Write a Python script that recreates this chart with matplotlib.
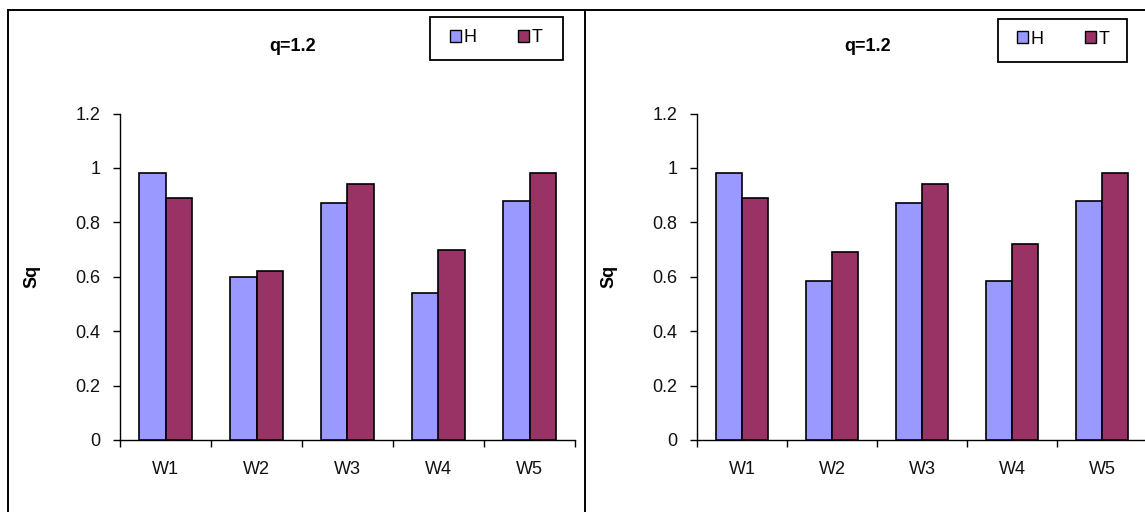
import numpy as np
import matplotlib
matplotlib.use("Agg")
import matplotlib.pyplot as plt
from matplotlib.patches import Patch, Rectangle
from matplotlib.lines import Line2D

plt.rcParams['font.family'] = ['Liberation Sans', 'DejaVu Sans']

# ---- data ----
categories = ["W1", "W2", "W3", "W4", "W5"]
series_names = ["H", "T"]
left_H = [0.98, 0.60, 0.87, 0.54, 0.88]
left_T = [0.89, 0.62, 0.94, 0.70, 0.98]
right_H = [0.98, 0.585, 0.87, 0.585, 0.88]
right_T = [0.89, 0.69, 0.94, 0.72, 0.98]
titles = ["q=1.2", "q=1.2"]
y_ticks = [0, 0.2, 0.4, 0.6, 0.8, 1.0, 1.2]
y_tick_labels = ["0", "0.2", "0.4", "0.6", "0.8", "1", "1.2"]
ylabel = "Sq"

colors = ["#9999FF", "#993366"]

W, H = 1145, 512
fig = plt.figure(figsize=(W / 100, H / 100), dpi=100)
fig.patch.set_facecolor("white")

FS = 13


def fx(x):
    return x / W


def fy(y):
    return 1 - y / H


def draw_panel(ax_left_px, ax_width_px, hvals, tvals, title, title_x, leg_x, leg_y, box):
    ax = fig.add_axes([fx(ax_left_px), fy(440), ax_width_px / W, (440 - 113.6) / H])
    x = np.arange(len(categories))
    bw = 0.286
    ax.bar(x - bw / 2, hvals, bw, color=colors[0], edgecolor="black", linewidth=1.2, zorder=3)
    ax.bar(x + bw / 2, tvals, bw, color=colors[1], edgecolor="black", linewidth=1.2, zorder=3)
    ax.set_xlim(-0.5, len(categories) - 0.5)
    ax.set_ylim(0, 1.2)
    ax.set_yticks(y_ticks)
    ax.set_yticklabels(y_tick_labels, fontsize=FS, color="#111111")
    ax.set_xticks(x)
    ax.set_xticklabels(categories, fontsize=FS, color="#111111")
    ax.set_xticks(np.arange(-0.5, len(categories), 1.0), minor=True)
    ax.tick_params(axis="x", which="major", length=0, pad=15)
    ax.tick_params(axis="x", which="minor", length=5, width=1.0, direction="out")
    ax.tick_params(axis="y", which="major", length=5, width=1.0, direction="out", pad=9)
    for s in ["top", "right"]:
        ax.spines[s].set_visible(False)
    for s in ["left", "bottom"]:
        ax.spines[s].set_linewidth(1.0)
        ax.spines[s].set_color("black")
    ax.set_ylabel(ylabel, fontsize=FS, fontweight="bold")
    ax.yaxis.set_label_coords(-80 / ax_width_px, 0.5)
    ax.set_facecolor("none")
    fig.text(fx(title_x), fy(51), title, fontsize=FS, fontweight="bold",
             ha="center", va="baseline")
    handles = [Patch(facecolor=colors[i], edgecolor="black", linewidth=1.0) for i in range(2)]
    fig.legend(handles, series_names, loc="center left",
               bbox_to_anchor=(fx(leg_x), fy(leg_y)), ncol=2, frameon=False,
               borderpad=0, borderaxespad=0, handlelength=0.62, handleheight=0.62,
               handletextpad=0.15, columnspacing=2.25, fontsize=FS)
    bx0, by0, bx1, by1 = box
    fig.add_artist(Rectangle((fx(bx0), fy(by1)), (bx1 - bx0) / W, (by1 - by0) / H,
                             transform=fig.transFigure, facecolor="none",
                             edgecolor="black", linewidth=1.3))
    return ax


draw_panel(120, 455, left_H, left_T, titles[0], 293, 450, 38, (430, 17, 563, 60))
draw_panel(697, 450, right_H, right_T, titles[1], 868, 1017, 39, (998, 19, 1127, 62))

# outer frames
lw = 1.4
fig.add_artist(Line2D([fx(7.7), fx(1145)], [fy(9.5), fy(9.5)], transform=fig.transFigure,
                      color="black", linewidth=lw))
fig.add_artist(Line2D([fx(7.7), fx(7.7)], [fy(9.5), fy(512)], transform=fig.transFigure,
                      color="black", linewidth=lw))
fig.add_artist(Line2D([fx(585), fx(585)], [fy(9.5), fy(512)], transform=fig.transFigure,
                      color="black", linewidth=lw))

fig.savefig("out.png", dpi=100, facecolor="white")
